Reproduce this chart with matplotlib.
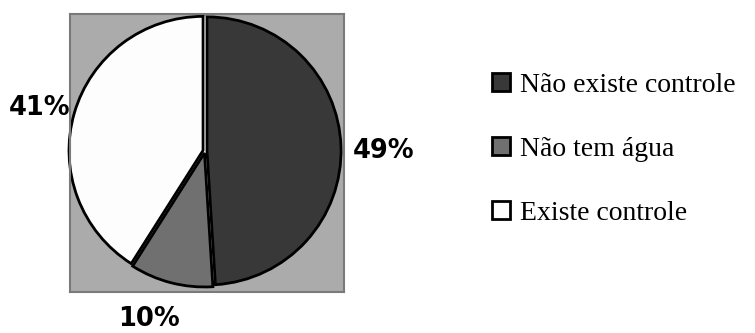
import matplotlib.pyplot as plt
from matplotlib.patches import Circle

# Dados do gráfico
categorias = ["Não existe controle", "Não tem água", "Existe controle"]
valores = [49, 10, 41]
cores = ["#383838", "#707070", "#fdfdfd"]

# posição dos rótulos de percentagem (em unidades do raio)
pos_rotulos = [(1.33, 0.0), (-0.42, -1.25), (-1.23, 0.32)]

fig = plt.figure(figsize=(7.55, 3.33), dpi=100)
W, H = 755, 333

# área cinza do gráfico (em pixels: x 70..344, y 14..292)
ax = fig.add_axes([70 / W, (H - 292) / H, 274 / W, 278 / H])

# fundo branco por trás das fatias (faz as frestas brancas)
ax.add_patch(Circle((0, 0), 1.0, color="white", zorder=0))

wedges, textos = ax.pie(
    valores,
    colors=cores,
    startangle=90,
    counterclock=False,
    explode=[0.015, 0.015, 0.015],
    labels=[f"{v}%" for v in valores],
    wedgeprops=dict(edgecolor="black", linewidth=2),
    textprops=dict(fontsize=18.5, fontweight="bold", family="DejaVu Sans",
                   ha="center", va="center"),
)
for t, p in zip(textos, pos_rotulos):
    t.set_position(p)
    t.set_horizontalalignment("center")

ax.set_aspect("auto")
ax.set_xlim(-1.007, 1.037)
ax.set_ylim(-1.052, 1.022)
ax.set_frame_on(True)
ax.set_facecolor("#ababab")
for s in ax.spines.values():
    s.set_color("#7a7a7a")
    s.set_linewidth(1.5)
ax.set_xticks([])
ax.set_yticks([])

fig.legend(
    wedges, categorias,
    loc="upper left",
    bbox_to_anchor=(478 / W, 1 - 59 / H),
    frameon=False,
    prop=dict(family="Liberation Serif", size=20),
    handlelength=0.65, handleheight=0.65,
    handletextpad=0.35,
    labelspacing=1.4,
    borderpad=0,
)

fig.savefig("out.png", dpi=100)
